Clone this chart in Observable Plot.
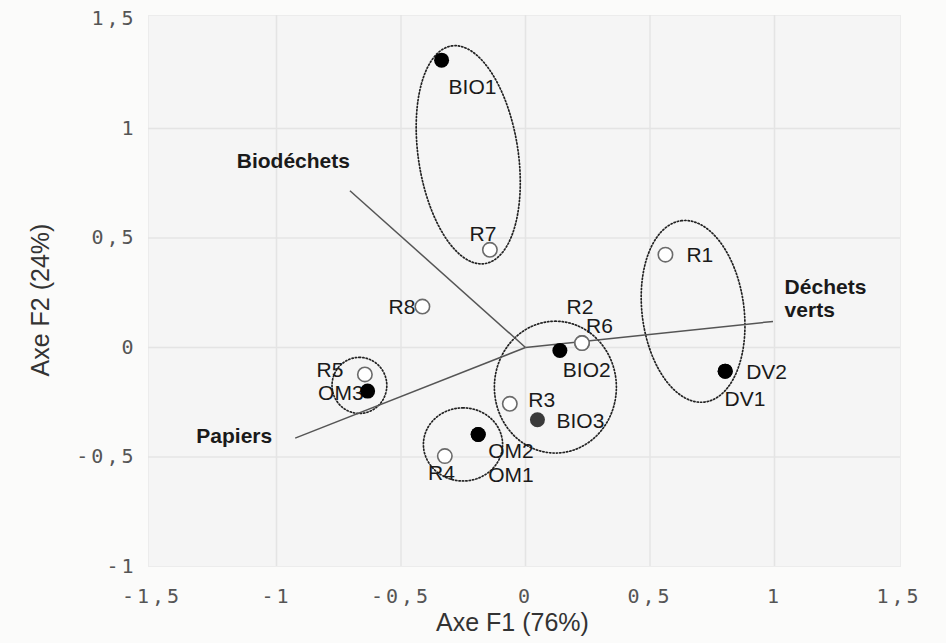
<!DOCTYPE html>
<html><head><meta charset="utf-8">
<script src="https://cdn.jsdelivr.net/npm/d3@7"></script>
<script src="https://cdn.jsdelivr.net/npm/@observablehq/plot@0.6"></script>
<style>
html,body{margin:0;padding:0;background:#fbfbfa;}
#chart{width:946px;height:643px;}
g[aria-label="x-axis tick label"] text, g[aria-label="y-axis tick label"] text {letter-spacing:3px;}
</style></head><body><div id="chart"></div>
<script>
// Observations (factor scores)
const names = ["DV1","DV2","R2","R6","OM1","OM2","BIO1","R7","R8","R1","BIO2","R5","OM3","R3","BIO3","R4"];
const f1 =    [0.802, 0.802, 0.227, 0.227, -0.19, -0.19, -0.337, -0.143, -0.414, 0.562, 0.138, -0.645, -0.634, -0.063, 0.048, -0.324];
const f2 =    [-0.108, -0.108, 0.02, 0.02, -0.397, -0.397, 1.312, 0.446, 0.187, 0.424, -0.014, -0.123, -0.199, -0.257, -0.33, -0.496];
const kind =  ["filled","filled","open","open","filled","filled","filled","open","open","open","filled","open","filled","open","grey","open"];

// Variable vectors
const varNames = ["Biodéchets", "Papiers", "Déchets\nverts"];
const varF1 = [-0.705, -0.925, 0.994];
const varF2 = [0.716, -0.414, 0.119];

// Group ellipses: centre and two semi-axis vectors (data units)
const grpCx = [-0.230, 0.673, 0.12, -0.251, -0.667];
const grpCy = [0.880, 0.165, -0.181, -0.4425, -0.173];
const grpAx = [-0.067, -0.047, 0, 0, 0];
const grpAy = [0.497, 0.414, 0.301, 0.167, 0.128];
const grpBx = [0.198, 0.203, 0.245, 0.159, 0.110];
const grpBy = [0.035, 0.030, 0, 0, 0];

// Axes
const xTicks = [-1.5, -1, -0.5, 0, 0.5, 1, 1.5];
const yTicks = [-1, -0.5, 0, 0.5, 1, 1.5];
const xGrid = [-1, -0.5, 0, 0.5, 1];
const yGrid = [-0.5, 0, 0.5, 1];
const xTitle = "Axe F1 (76%)";
const yTitle = "Axe F2 (24%)";

// ---- layout (label offsets in px) ----
const labelLayout = {
  BIO1:{dx:7,dy:27,a:"start"}, R7:{dx:-7,dy:-16,a:"middle"}, R8:{dx:-7,dy:1,a:"end"},
  R1:{dx:21,dy:1,a:"start"}, R2:{dx:-2,dy:-36,a:"middle"}, R6:{dx:4,dy:-17,a:"start"},
  BIO2:{dx:3,dy:19.5,a:"start"}, R5:{dx:-21.5,dy:-4,a:"end"}, OM3:{dx:-4,dy:2,a:"end"},
  R3:{dx:18.5,dy:-4,a:"start"}, BIO3:{dx:19,dy:1.7,a:"start"}, OM2:{dx:10,dy:17,a:"start"},
  OM1:{dx:10,dy:41,a:"start"}, R4:{dx:-3.3,dy:17,a:"middle"}, DV2:{dx:21,dy:1.3,a:"start"},
  DV1:{dx:-0.7,dy:28.3,a:"start"}
};
const varLayout = [
  {dx:0,dy:-30,a:"end"}, {dx:-23,dy:-2,a:"end"}, {dx:11.6,dy:-23,a:"start"}
];

const fmt = d => String(d).replace(".", ",");

const pts = names.map((n,i)=>({name:n, x:f1[i], y:f2[i], kind:kind[i]}));
const vecs = varNames.map((n,i)=>({name:n, x1:0, y1:0, x2:varF1[i], y2:varF2[i]}));
const ell = [];
const N = 160;
grpCx.forEach((cx,g)=>{
  for(let k=0;k<N;k++){
    const t = 2*Math.PI*k/N;
    ell.push({g, x: cx + Math.cos(t)*grpAx[g] + Math.sin(t)*grpBx[g],
                 y: grpCy[g] + Math.cos(t)*grpAy[g] + Math.sin(t)*grpBy[g]});
  }
});

const labelFont = "Liberation Sans, Arial, sans-serif";
const marks = [
  Plot.frame({fill:"#f5f5f5", stroke:"#ececec"}),
  Plot.gridX(xGrid, {stroke:"#e4e4e4", strokeOpacity:1, strokeWidth:1.5}),
  Plot.gridY(yGrid, {stroke:"#e4e4e4", strokeOpacity:1, strokeWidth:1.5}),
  Plot.axisX(xTicks, {tickSize:0, tickPadding:22, tickFormat:fmt, label:null,
    fontFamily:"DejaVu Sans Mono, monospace", fontSize:20, fill:"#555"}),
  Plot.axisY(yTicks, {tickSize:0, tickPadding:12, tickFormat:fmt, label:null,
    fontFamily:"DejaVu Sans Mono, monospace", fontSize:20, fill:"#555"}),
  Plot.text([xTitle], {frameAnchor:"bottom", textAnchor:"middle", lineAnchor:"middle", dx:-12, dy:56, fontFamily:labelFont, fontSize:25, fill:"#333"}),
  Plot.text([yTitle], {frameAnchor:"left", textAnchor:"middle", lineAnchor:"middle", rotate:-90, dx:-108, dy:9, fontFamily:labelFont, fontSize:25, fill:"#333"}),
  Plot.line(ell, {x:"x", y:"y", z:"g", curve:"linear-closed", stroke:"#222", strokeWidth:1.7, strokeDasharray:"1.3,2.1"}),
  Plot.link(vecs, {x1:"x1", y1:"y1", x2:"x2", y2:"y2", stroke:"#555", strokeWidth:1.5}),
  ...vecs.map((v,i)=>Plot.text([v], {x:"x2", y:"y2", text:"name", dx:varLayout[i].dx, dy:varLayout[i].dy,
    textAnchor:varLayout[i].a, lineHeight:1.05, fontFamily:labelFont, fontWeight:"bold", fontSize:21, fill:"#1a1a1a"})),
  ...pts.map(p=>Plot.text([p], {x:"x", y:"y", text:"name", dx:labelLayout[p.name].dx, dy:labelLayout[p.name].dy,
    textAnchor:labelLayout[p.name].a, fontFamily:labelFont, fontSize:21, fill:"#1a1a1a"})),
  Plot.dot(pts.filter(p=>p.kind==="open"), {x:"x", y:"y", r:7.2, fill:"white", stroke:"#6a6a6a", strokeWidth:1.6}),
  Plot.dot(pts.filter(p=>p.kind==="filled"), {x:"x", y:"y", r:7.5, fill:"black", stroke:"none"}),
  Plot.dot(pts.filter(p=>p.kind==="grey"), {x:"x", y:"y", r:7.5, fill:"#3a3a3a", stroke:"none"})
];

const chart = Plot.plot({
  width:946, height:643,
  marginLeft:148, marginRight:46, marginTop:15, marginBottom:77,
  x:{domain:[-1.5,1.5], insetLeft:3.5, insetRight:1.5},
  y:{domain:[-1,1.5], insetTop:3.5},
  style:{background:"#fbfbfa", overflow:"visible"},
  marks
});
document.getElementById("chart").appendChild(chart);
</script>
</body></html>
